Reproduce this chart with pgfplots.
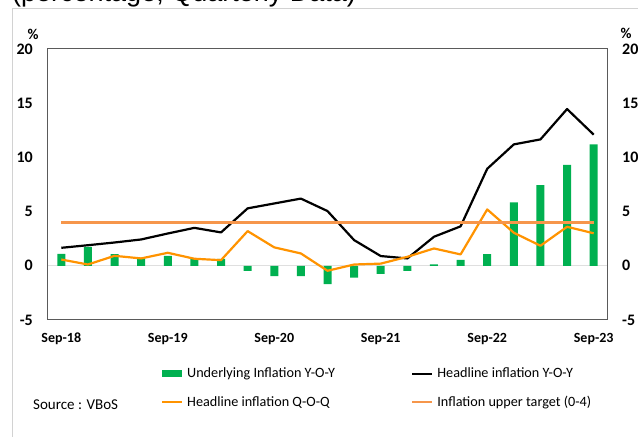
\documentclass[border=0pt]{standalone}
\usepackage{fontspec}
\setmainfont{Carlito}
\newfontfamily\arialf{Liberation Sans}
\usepackage{pgfplots}
\usepackage{pgfplotstable}
\pgfplotsset{compat=1.18}
\definecolor{bargreen}{RGB}{0,176,80}
\definecolor{qqorange}{RGB}{255,147,0}
\definecolor{tgtorange}{RGB}{246,150,75}
\definecolor{framegray}{RGB}{90,90,90}
\pgfplotstableread{
i under yoy qoq tgt
0 1.10 1.66 0.58 4
1 1.75 1.90 0.12 4
2 1.08 2.15 0.92 4
3 0.74 2.43 0.68 4
4 0.92 2.98 1.20 4
5 0.68 3.50 0.65 4
6 0.65 3.08 0.52 4
7 -0.46 5.30 3.20 4
8 -0.95 5.75 1.70 4
9 -0.95 6.20 1.14 4
10 -1.70 5.05 -0.46 4
11 -1.10 2.37 0.12 4
12 -0.74 0.90 0.20 4
13 -0.46 0.68 0.83 4
14 0.12 2.68 1.60 4
15 0.55 3.64 1.05 4
16 1.08 8.95 5.20 4
17 5.85 11.20 3.05 4
18 7.45 11.66 1.85 4
19 9.30 14.46 3.60 4
20 11.20 12.10 3.00 4
}\datatable
\begin{document}
\begin{tikzpicture}
\useasboundingbox (0,0) rectangle (638bp,437bp);
\draw[gray!35, line width=0.8bp] (12bp,0) -- (12bp,429bp) -- (638bp,429bp);
\node[anchor=base west, inner sep=0pt, font=\arialf\fontsize{27bp}{30bp}\selectfont] at (12bp,435.5bp) {(percentage, Quarterly Data)};
\node[font=\fontsize{15bp}{17bp}\selectfont\bfseries, inner sep=0pt] at (33bp,403bp) {\%};
\node[font=\fontsize{15bp}{17bp}\selectfont\bfseries, inner sep=0pt] at (626bp,403.5bp) {\%};
\node[anchor=west, inner sep=0pt, font=\fontsize{15bp}{18bp}\selectfont] at (33bp,32bp) {Source : VBoS};
\begin{axis}[
  at={(48bp,117bp)}, anchor=south west, scale only axis,
  width=559bp, height=271bp,
  xmin=-0.5, xmax=20.5, ymin=-5, ymax=20,
  ytick={-5,0,5,10,15,20},
  xtick={0,4,8,12,16,20},
  xticklabels={Sep-18,Sep-19,Sep-20,Sep-21,Sep-22,Sep-23},
  major tick length=0pt,
  axis line style={framegray, line width=1bp},
  /pgf/number format/assume math mode=true,
  yticklabel style={font=\fontsize{16bp}{18bp}\selectfont\bfseries, anchor=east, inner sep=0pt, xshift=-15bp},
  xticklabel style={font=\fontsize{14bp}{16bp}\selectfont\bfseries, anchor=north, inner sep=0pt, yshift=-13bp},
  legend columns=2,
  legend cell align=left,
  legend style={draw=none, fill=none, at={(axis description cs:0.2021,-0.177)}, anchor=north west,
    inner sep=0pt, outer sep=0pt, font=\fontsize{14.2bp}{17bp}\selectfont, row sep=17bp,
    nodes={inner sep=0pt},
    /tikz/every odd column/.append style={column sep=4bp},
    /tikz/every even column/.append style={column sep=76bp}},
]
\addplot[gray!25, line width=1bp, forget plot] coordinates {(-0.5,0) (20.5,0)};
\addplot[ybar, bar width=8bp, fill=bargreen, draw=none,
  legend image code/.code={\fill[bargreen] (0bp,-3.5bp) rectangle (20bp,3.5bp);}]
  table[x=i, y=under] {\datatable};
\addlegendentry{Underlying Inflation Y-O-Y}
\addplot[black, line width=2.2bp, line join=round,
  legend image code/.code={\draw[black, line width=2.2bp] (0bp,0bp) -- (20bp,0bp);}]
  table[x=i, y=yoy] {\datatable};
\addlegendentry{Headline inflation Y-O-Y}
\addplot[qqorange, line width=2.2bp, line join=round,
  legend image code/.code={\draw[qqorange, line width=2.2bp] (0bp,0bp) -- (20bp,0bp);}]
  table[x=i, y=qoq] {\datatable};
\addlegendentry{Headline inflation Q-O-Q}
\addplot[tgtorange, line width=2.2bp,
  legend image code/.code={\draw[tgtorange, line width=2.2bp] (0bp,0bp) -- (20bp,0bp);}]
  table[x=i, y=tgt] {\datatable};
\addlegendentry{Inflation upper target (0-4)}
\end{axis}
\begin{axis}[
  at={(48bp,117bp)}, anchor=south west, scale only axis,
  width=559bp, height=271bp,
  xmin=-0.5, xmax=20.5, ymin=-5, ymax=20,
  ytick={-5,0,5,10,15,20},
  axis x line=none, axis y line*=right,
  major tick length=0pt,
  axis line style={framegray, line width=1bp},
  /pgf/number format/assume math mode=true,
  yticklabel style={font=\fontsize{16bp}{18bp}\selectfont\bfseries, anchor=west, inner sep=0pt, xshift=15bp},
]
\addplot[draw=none] coordinates {(0,0)};
\end{axis}
\end{tikzpicture}
\end{document}
